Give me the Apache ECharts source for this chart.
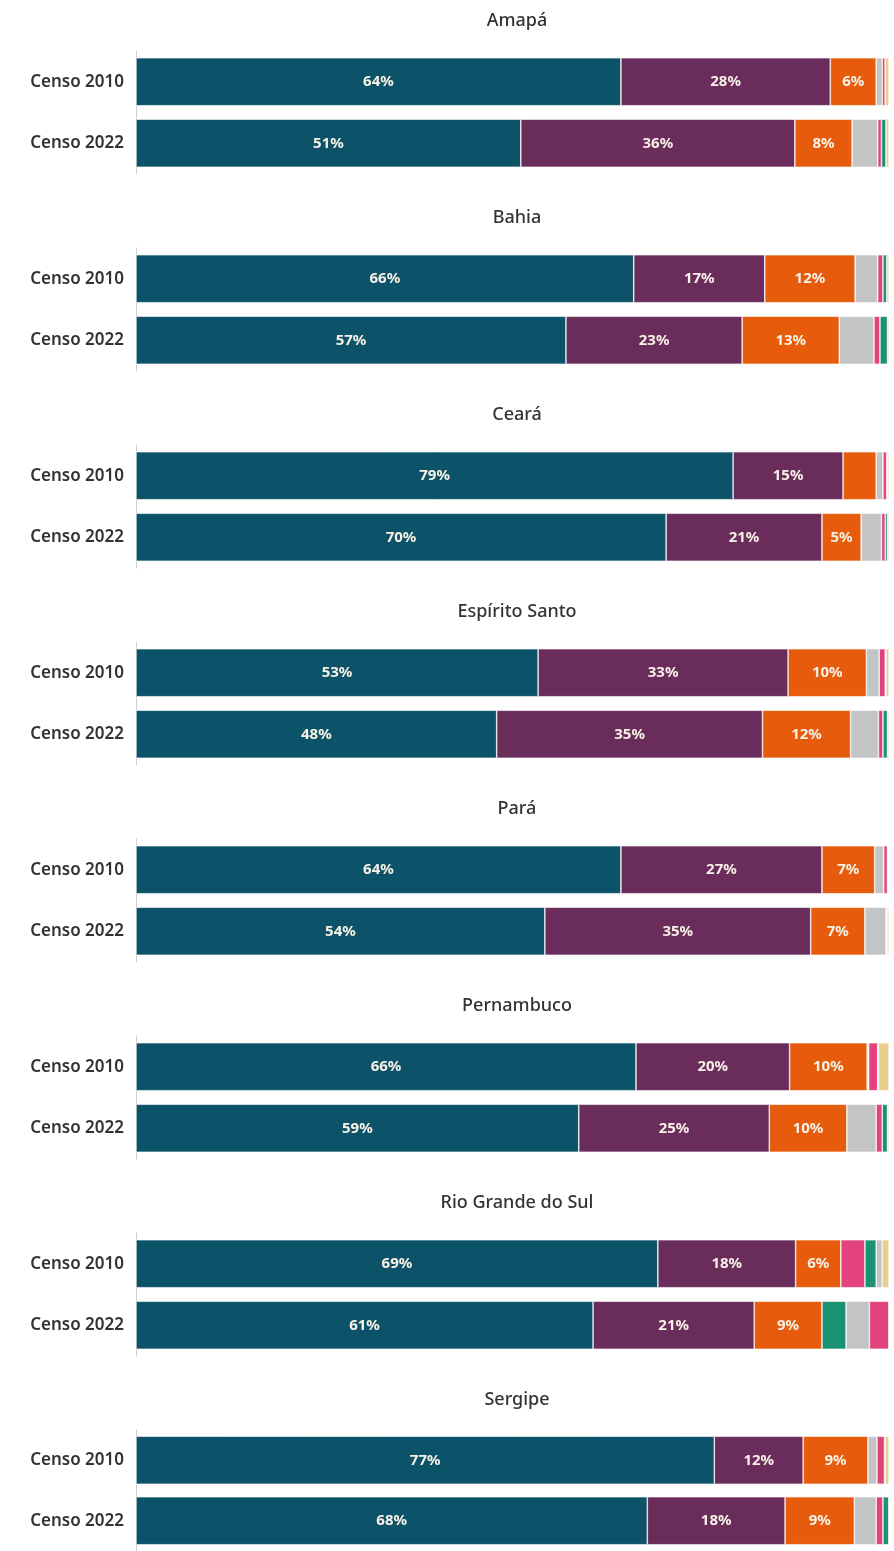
<!DOCTYPE html>
<html>
<head>
<meta charset="utf-8">
<script src="https://cdn.jsdelivr.net/npm/echarts@6/dist/echarts.min.js"></script>
<style>
  html, body { margin: 0; padding: 0; background: #fff; }
  #chart { width: 894px; height: 1551px; }
</style>
</head>
<body>
<div id="chart"></div>
<script>
// estados (um painel por estado)
const estados = ['Amapá', 'Bahia', 'Ceará', 'Espírito Santo', 'Pará', 'Pernambuco', 'Rio Grande do Sul', 'Sergipe'];
const anos = ['Censo 2010', 'Censo 2022'];

// valores em %, pares [2010, 2022] na ordem dos estados
const catolica      = [64.4, 51.1, 66.1, 57.1, 79.3, 70.4, 53.4, 47.9, 64.4, 54.3, 66.4, 58.8, 69.3, 60.7, 76.8, 67.9];
const evangelica    = [27.8, 36.4, 17.4, 23.4, 14.6, 20.7, 33.2, 35.3, 26.7, 35.3, 20.4, 25.3, 18.3, 21.4, 11.8, 18.3];
const semReligiao   = [6.1, 7.6, 12.0, 12.9, 4.4, 5.2, 10.4, 11.7, 7.0, 7.2, 10.3, 10.3, 6.0, 9.0, 8.6, 9.2];
const outras        = [0.8, 3.4, 3.0, 4.6, 0.9, 2.7, 1.7, 3.7, 1.2, 2.8, 0.2, 3.9, 0.8, 3.1, 1.2, 2.9];
const espirita      = [0.4, 0.5, 0.7, 0.8, 0.5, 0.5, 0.8, 0.6, 0.5, 0.1, 1.2, 0.8, 3.2, 2.6, 1.0, 0.9];
const umbanda       = [0.0, 0.6, 0.5, 1.0, 0.1, 0.3, 0.1, 0.6, 0.1, 0.1, 0.1, 0.7, 1.5, 3.2, 0.1, 0.8];
const naoDeterminada = [0.5, 0.4, 0.3, 0.2, 0.2, 0.2, 0.4, 0.2, 0.1, 0.2, 1.4, 0.2, 0.9, 0.0, 0.5, 0.0];

const categorias = [catolica, evangelica, semReligiao, outras, espirita, umbanda, naoDeterminada];
const cores = ['#0c5369', '#6a2c5b', '#e65c0c', '#c2c4c6', '#e3437c', '#1a9273', '#e8cf8a'];

// ordem de empilhamento; o RS tem ordem própria
const ordemPadrao = [0, 1, 2, 3, 4, 5, 6];
const ordemRS2010 = [0, 1, 2, 4, 5, 3, 6];
const ordemRS2022 = [0, 1, 2, 5, 3, 4, 6];

const chart = echarts.init(document.getElementById('chart'));

const passo = 197;
const fonte = '"Noto Sans", "Open Sans", sans-serif';

const titles = [];
const grids = [];
const xAxes = [];
const yAxes = [];
const series = [];

estados.forEach((estado, p) => {
    titles.push({
        text: estado,
        left: 512,
        top: 7 + passo * p,
        textAlign: 'center',
        textStyle: { fontFamily: fonte, fontSize: 18, fontWeight: 500, color: '#333' }
    });
    grids.push({ left: 136, right: 5, top: 51 + passo * p, height: 123 });
    xAxes.push({ type: 'value', gridIndex: p, min: 0, max: 100, show: false });
    yAxes.push({
        type: 'category',
        gridIndex: p,
        data: anos,
        inverse: true,
        axisLine: { lineStyle: { color: '#d0d0d0' } },
        axisTick: { alignWithLabel: true, length: 8, lineStyle: { color: '#bbb' } },
        axisLabel: { fontFamily: fonte, fontSize: 17, fontWeight: 600, color: '#333', margin: 12 }
    });

    const ordens = p === 6 ? [ordemRS2010, ordemRS2022] : [ordemPadrao, ordemPadrao];

    for (let s = 0; s < 7; s++) {
        const data = [0, 1].map(a => {
            const cat = ordens[a][s];
            const v = categorias[cat][p * 2 + a];
            return { value: v, itemStyle: { color: cores[cat] } };
        });
        series.push({
            type: 'bar',
            xAxisIndex: p,
            yAxisIndex: p,
            stack: 'estado' + p,
            barWidth: 48,
            data: data,
            itemStyle: { borderColor: '#fff', borderWidth: 0.6 },
            label: {
                show: true,
                position: 'inside',
                fontFamily: fonte,
                fontSize: 15,
                fontWeight: 'bold',
                color: '#f7f1e6',
                formatter: function (params) {
                    return params.value >= 5 ? Math.round(params.value) + '%' : '';
                }
            },
            silent: true
        });
    }
});

chart.setOption({
    animation: false,
    backgroundColor: '#fff',
    title: titles,
    grid: grids,
    xAxis: xAxes,
    yAxis: yAxes,
    series: series
});
</script>
</body>
</html>
